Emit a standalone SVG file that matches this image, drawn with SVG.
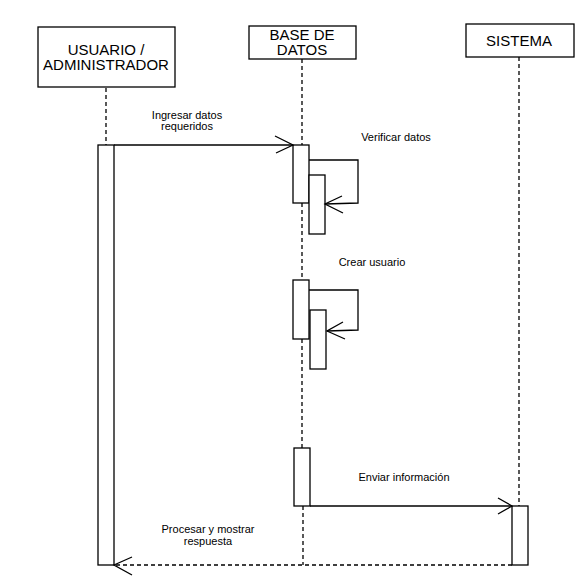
<svg xmlns="http://www.w3.org/2000/svg" width="587" height="581" viewBox="0 0 587 581">
<style>
.box{fill:#fff;stroke:#000;stroke-width:1.3}
.act{fill:#fff;stroke:#000;stroke-width:1.3}
.life{fill:none;stroke:#000;stroke-width:1.3;stroke-dasharray:4 3}
.msg{fill:none;stroke:#000;stroke-width:1.3}
.dash{fill:none;stroke:#000;stroke-width:1.3;stroke-dasharray:4 3}
.h{font-family:"Liberation Sans",Arial,sans-serif;font-size:15px;text-anchor:middle;fill:#000}
.l{font-family:"Liberation Sans",Arial,sans-serif;font-size:11px;text-anchor:middle;fill:#000}
</style>
<rect width="587" height="581" fill="#fff"/>
<g id="lifelines">
<line class="life" x1="106" y1="88" x2="106" y2="145"/>
<line class="life" x1="302" y1="59" x2="302" y2="145"/>
<line class="life" x1="302" y1="203" x2="302" y2="280"/>
<line class="life" x1="302" y1="339" x2="302" y2="448"/>
<line class="life" x1="303" y1="506" x2="303" y2="565"/>
<line class="life" x1="519" y1="57" x2="519" y2="506"/>
</g>
<g id="usuario">
<rect class="box" x="38" y="27" width="137" height="60"/>
<text class="h" x="106" y="55">USUARIO /</text>
<text class="h" x="106" y="70">ADMINISTRADOR</text>
</g>
<g id="basedatos">
<rect class="box" x="249" y="26" width="107" height="33"/>
<text class="h" x="302" y="40">BASE DE</text>
<text class="h" x="302" y="55">DATOS</text>
</g>
<g id="sistema">
<rect class="box" x="466" y="24" width="108" height="33"/>
<text class="h" x="519" y="46">SISTEMA</text>
</g>
<g id="activations">
<rect class="act" x="98" y="145" width="16" height="420"/>
<rect class="act" x="293" y="145" width="16" height="58"/>
<rect class="act" x="309" y="175" width="16" height="59"/>
<rect class="act" x="293" y="280" width="16" height="59"/>
<rect class="act" x="310" y="310" width="16" height="59"/>
<rect class="act" x="294" y="448" width="16" height="58"/>
<rect class="act" x="512" y="506" width="16" height="59"/>
</g>
<g id="connectors">
<line class="msg" x1="114" y1="145" x2="293" y2="145"/>
<polyline class="msg" points="275,136 293,145 276,153"/>
<polyline class="msg" points="309,160 358,160 358,203 325,204"/>
<polyline class="msg" points="342,196 325,204 343,213"/>
<polyline class="msg" points="309,290 358,290 358,330 327,331"/>
<polyline class="msg" points="343,322 327,331 345,339"/>
<line class="msg" x1="310" y1="506" x2="512" y2="506"/>
<polyline class="msg" points="498,498 512,506 498,514"/>
<line class="dash" x1="512" y1="565" x2="114" y2="565"/>
<polyline class="msg" points="132,557 114,565 132,575"/>
</g>
<g id="labels">
<text class="l" x="187" y="119">Ingresar datos</text>
<text class="l" x="187" y="130">requeridos</text>
<text class="l" x="396" y="141">Verificar datos</text>
<text class="l" x="372" y="266">Crear usuario</text>
<text class="l" x="404" y="481">Enviar información</text>
<text class="l" x="208" y="533">Procesar y mostrar</text>
<text class="l" x="208" y="545">respuesta</text>
</g>
</svg>
